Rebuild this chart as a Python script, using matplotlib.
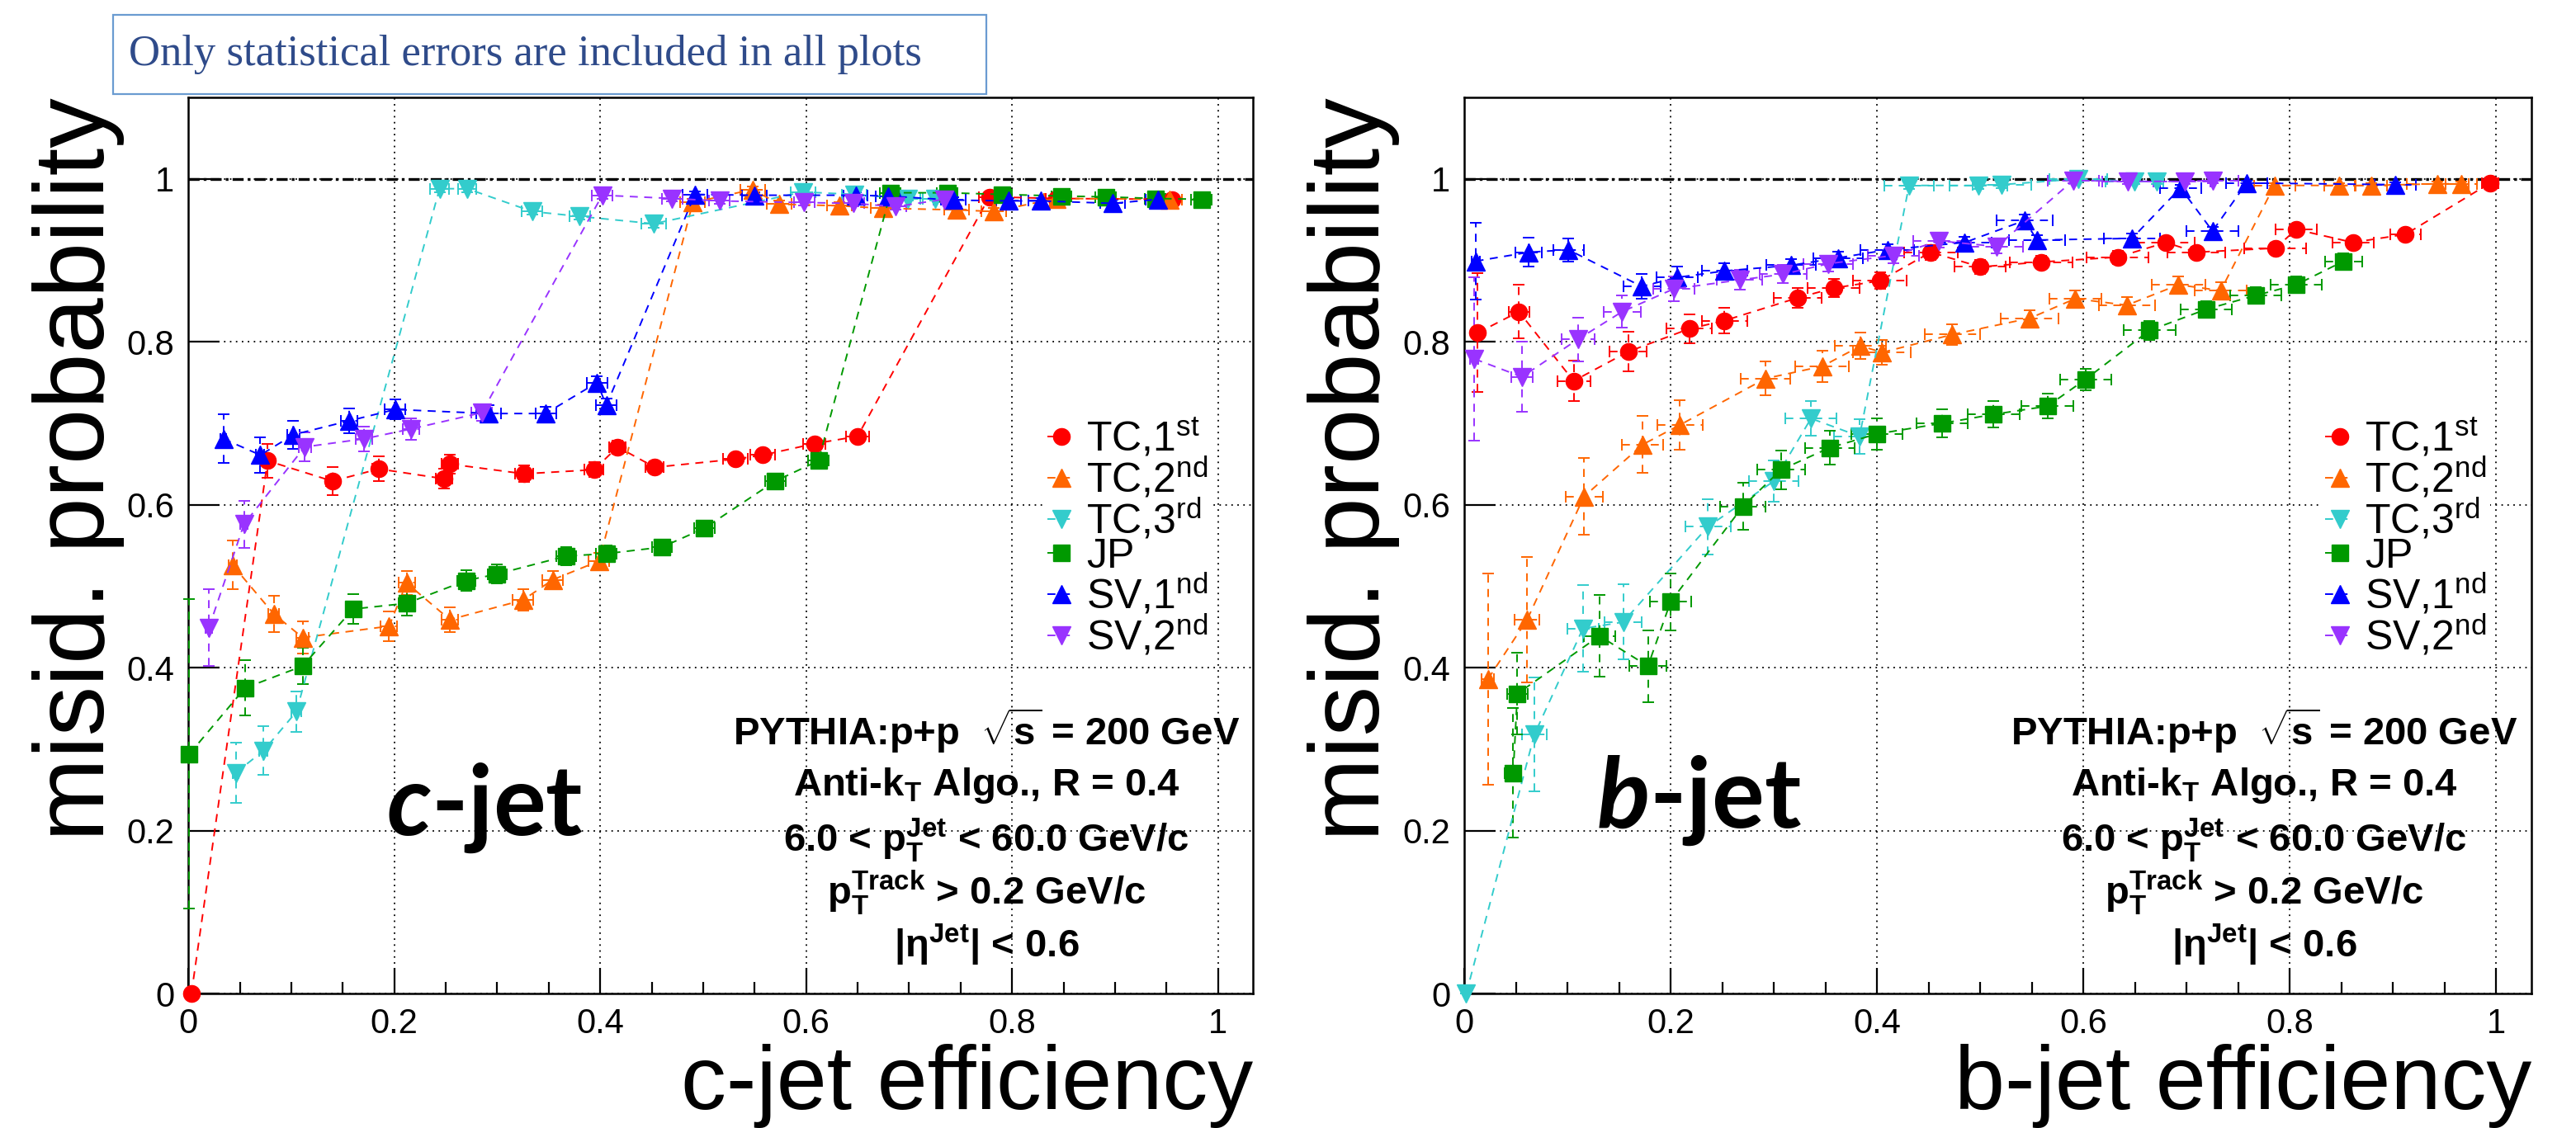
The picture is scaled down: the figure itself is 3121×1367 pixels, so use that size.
import matplotlib
matplotlib.use("Agg")
import matplotlib.pyplot as plt
from matplotlib.patches import Rectangle

plt.rcParams['font.family'] = ['Liberation Sans', 'DejaVu Sans']
plt.rcParams['mathtext.fontset'] = 'custom'
plt.rcParams['mathtext.rm'] = 'Liberation Sans:bold'
plt.rcParams['mathtext.bf'] = 'Liberation Sans:bold'
plt.rcParams['mathtext.sf'] = 'Liberation Sans'
plt.rcParams['mathtext.it'] = 'Lato:italic:bold'

# ---------------- c-jet panel data ----------------
c_tc1_x = [0.003, 0.077, 0.140, 0.185, 0.248, 0.254, 0.326, 0.394, 0.417, 0.453, 0.531, 0.558, 0.608, 0.650, 0.778, 0.843, 0.955]
c_tc1_y = [0.000, 0.654, 0.629, 0.644, 0.632, 0.650, 0.638, 0.643, 0.671, 0.646, 0.656, 0.661, 0.675, 0.684, 0.978, 0.976, 0.975]
c_tc1_ye = [0, 0.021, 0.017, 0.015, 0.012, 0.012, 0.010, 0.009, 0.008, 0.007, 0.006, 0.006, 0.006, 0.006, 0.003, 0.003, 0.003]
c_tc1_xe = [0, 0.004, 0.006, 0.006, 0.008, 0.008, 0.009, 0.009, 0.008, 0.009, 0.012, 0.012, 0.011, 0.011, 0.010, 0.010, 0.010]

c_tc2_x = [0.043, 0.083, 0.111, 0.195, 0.212, 0.254, 0.325, 0.354, 0.399, 0.490, 0.548, 0.574, 0.632, 0.675, 0.746, 0.782, 0.843, 0.953]
c_tc2_y = [0.526, 0.466, 0.437, 0.451, 0.504, 0.459, 0.483, 0.508, 0.531, 0.971, 0.987, 0.969, 0.967, 0.964, 0.962, 0.960, 0.976, 0.975]
c_tc2_ye = [0.030, 0.022, 0.020, 0.018, 0.015, 0.015, 0.013, 0.011, 0.010, 0.005, 0.004, 0.004, 0.004, 0.004, 0.004, 0.004, 0.003, 0.003]
c_tc2_xe = [0.004, 0.005, 0.006, 0.008, 0.008, 0.008, 0.010, 0.010, 0.010, 0.012, 0.012, 0.012, 0.012, 0.012, 0.012, 0.012, 0.012, 0.012]

c_tc3_x = [0.046, 0.073, 0.105, 0.244, 0.271, 0.334, 0.380, 0.452, 0.597, 0.647, 0.699, 0.725]
c_tc3_y = [0.271, 0.298, 0.346, 0.988, 0.988, 0.960, 0.954, 0.945, 0.984, 0.981, 0.976, 0.976]
c_tc3_ye = [0.037, 0.030, 0.025, 0.004, 0.004, 0.004, 0.004, 0.005, 0.003, 0.003, 0.003, 0.003]
c_tc3_xe = [0.003, 0.004, 0.005, 0.009, 0.009, 0.010, 0.010, 0.012, 0.012, 0.012, 0.012, 0.012]

c_jp_x = [0.001, 0.055, 0.111, 0.160, 0.212, 0.270, 0.300, 0.367, 0.406, 0.460, 0.501, 0.570, 0.612, 0.682, 0.737, 0.790, 0.848, 0.891, 0.939, 0.984]
c_jp_y = [0.294, 0.375, 0.402, 0.472, 0.479, 0.507, 0.515, 0.537, 0.540, 0.548, 0.571, 0.629, 0.654, 0.983, 0.983, 0.981, 0.979, 0.978, 0.976, 0.975]
c_jp_ye = [0.190, 0.034, 0.022, 0.018, 0.015, 0.013, 0.012, 0.011, 0.010, 0.009, 0.008, 0.007, 0.007, 0.003, 0.003, 0.003, 0.003, 0.003, 0.003, 0.003]
c_jp_xe = [0.002, 0.004, 0.006, 0.007, 0.008, 0.009, 0.009, 0.010, 0.010, 0.010, 0.010, 0.010, 0.010, 0.010, 0.010, 0.010, 0.010, 0.010, 0.010, 0.010]

c_sv1_x = [0.034, 0.070, 0.102, 0.156, 0.201, 0.292, 0.347, 0.397, 0.406, 0.492, 0.550, 0.648, 0.680, 0.743, 0.797, 0.828, 0.898, 0.942]
c_sv1_y = [0.681, 0.661, 0.686, 0.703, 0.717, 0.712, 0.712, 0.750, 0.722, 0.981, 0.980, 0.980, 0.979, 0.974, 0.973, 0.973, 0.970, 0.975]
c_sv1_ye = [0.030, 0.022, 0.017, 0.015, 0.012, 0.010, 0.008, 0.008, 0.008, 0.004, 0.004, 0.004, 0.004, 0.004, 0.004, 0.004, 0.004, 0.004]
c_sv1_xe = [0.003, 0.004, 0.006, 0.008, 0.010, 0.012, 0.010, 0.010, 0.010, 0.012, 0.012, 0.012, 0.012, 0.012, 0.012, 0.012, 0.012, 0.012]

c_sv2_x = [0.020, 0.054, 0.113, 0.171, 0.216, 0.285, 0.402, 0.470, 0.516, 0.598, 0.646, 0.687, 0.734]
c_sv2_y = [0.449, 0.576, 0.671, 0.681, 0.693, 0.713, 0.980, 0.976, 0.973, 0.971, 0.970, 0.966, 0.975]
c_sv2_ye = [0.047, 0.029, 0.018, 0.015, 0.013, 0.010, 0.004, 0.004, 0.004, 0.004, 0.004, 0.004, 0.004]
c_sv2_xe = [0.003, 0.004, 0.006, 0.008, 0.008, 0.010, 0.010, 0.010, 0.010, 0.010, 0.010, 0.010, 0.010]

# ---------------- b-jet panel data ----------------
b_tc1_x = [0.013, 0.053, 0.106, 0.159, 0.218, 0.252, 0.323, 0.358, 0.403, 0.452, 0.500, 0.559, 0.633, 0.680, 0.709, 0.786, 0.806, 0.861, 0.912, 0.994]
b_tc1_y = [0.811, 0.837, 0.752, 0.788, 0.816, 0.826, 0.854, 0.866, 0.875, 0.910, 0.892, 0.898, 0.904, 0.922, 0.910, 0.915, 0.938, 0.922, 0.932, 0.995]
b_tc1_ye = [0.073, 0.033, 0.025, 0.024, 0.018, 0.016, 0.012, 0.011, 0.010, 0.009, 0.009, 0.008, 0.008, 0.007, 0.007, 0.007, 0.006, 0.006, 0.006, 0.003]
b_tc1_xe = [0.005, 0.010, 0.016, 0.018, 0.022, 0.022, 0.023, 0.025, 0.026, 0.026, 0.025, 0.030, 0.030, 0.028, 0.028, 0.030, 0.020, 0.020, 0.015, 0.008]

b_tc2_x = [0.023, 0.061, 0.116, 0.173, 0.209, 0.292, 0.347, 0.384, 0.405, 0.473, 0.548, 0.592, 0.642, 0.692, 0.733, 0.785, 0.848, 0.879, 0.943, 0.966]
b_tc2_y = [0.386, 0.459, 0.610, 0.674, 0.698, 0.755, 0.770, 0.795, 0.787, 0.809, 0.829, 0.853, 0.845, 0.870, 0.863, 0.992, 0.992, 0.992, 0.994, 0.994]
b_tc2_ye = [0.130, 0.077, 0.047, 0.035, 0.030, 0.021, 0.019, 0.016, 0.015, 0.013, 0.010, 0.010, 0.010, 0.010, 0.010, 0.003, 0.003, 0.003, 0.003, 0.003]
b_tc2_xe = [0.006, 0.012, 0.018, 0.020, 0.022, 0.024, 0.026, 0.025, 0.028, 0.027, 0.028, 0.025, 0.027, 0.026, 0.025, 0.020, 0.015, 0.015, 0.030, 0.015]

b_tc3_x = [0.002, 0.068, 0.115, 0.154, 0.236, 0.300, 0.336, 0.383, 0.431, 0.498, 0.521, 0.595, 0.649, 0.671]
b_tc3_y = [0.000, 0.318, 0.448, 0.456, 0.573, 0.629, 0.706, 0.684, 0.992, 0.992, 0.993, 1.000, 0.997, 0.997]
b_tc3_ye = [0, 0.070, 0.053, 0.046, 0.034, 0.025, 0.021, 0.021, 0.004, 0.004, 0.004, 0.003, 0.003, 0.003]
b_tc3_xe = [0, 0.012, 0.015, 0.018, 0.022, 0.024, 0.025, 0.025, 0.024, 0.028, 0.028, 0.028, 0.028, 0.028]

b_jp_x = [0.0475, 0.0515, 0.131, 0.178, 0.200, 0.270, 0.307, 0.354, 0.400, 0.463, 0.513, 0.565, 0.602, 0.664, 0.719, 0.767, 0.806, 0.852]
b_jp_y = [0.271, 0.368, 0.439, 0.402, 0.481, 0.598, 0.643, 0.670, 0.687, 0.700, 0.711, 0.721, 0.754, 0.814, 0.840, 0.857, 0.870, 0.899]
b_jp_ye = [0.080, 0.050, 0.050, 0.044, 0.035, 0.029, 0.024, 0.021, 0.019, 0.017, 0.016, 0.015, 0.013, 0.012, 0.010, 0.010, 0.010, 0.010]
b_jp_xe = [0.008, 0.010, 0.015, 0.018, 0.020, 0.022, 0.023, 0.024, 0.025, 0.025, 0.025, 0.025, 0.025, 0.025, 0.025, 0.025, 0.025, 0.018]

b_sv1_x = [0.011, 0.0625, 0.101, 0.172, 0.206, 0.252, 0.317, 0.362, 0.410, 0.485, 0.543, 0.555, 0.647, 0.694, 0.725, 0.758, 0.902]
b_sv1_y = [0.899, 0.910, 0.913, 0.868, 0.879, 0.887, 0.894, 0.903, 0.913, 0.922, 0.949, 0.925, 0.927, 0.989, 0.936, 0.995, 0.993]
b_sv1_ye = [0.047, 0.018, 0.014, 0.015, 0.013, 0.010, 0.008, 0.008, 0.007, 0.007, 0.007, 0.006, 0.006, 0.004, 0.005, 0.003, 0.003]
b_sv1_xe = [0.004, 0.013, 0.015, 0.018, 0.020, 0.022, 0.024, 0.024, 0.026, 0.026, 0.027, 0.027, 0.027, 0.020, 0.025, 0.020, 0.020]

b_sv2_x = [0.010, 0.056, 0.110, 0.153, 0.203, 0.267, 0.309, 0.353, 0.416, 0.460, 0.516, 0.590, 0.643, 0.698, 0.725]
b_sv2_y = [0.779, 0.757, 0.803, 0.837, 0.865, 0.876, 0.883, 0.896, 0.906, 0.924, 0.917, 0.998, 0.997, 0.997, 0.998]
b_sv2_ye = [0.100, 0.043, 0.027, 0.020, 0.015, 0.012, 0.011, 0.010, 0.009, 0.008, 0.008, 0.003, 0.003, 0.003, 0.003]
b_sv2_xe = [0.004, 0.010, 0.016, 0.018, 0.020, 0.022, 0.023, 0.024, 0.025, 0.025, 0.025, 0.025, 0.025, 0.025, 0.025]

labels = ['TC,1$^{\\mathsf{st}}$', 'TC,2$^{\\mathsf{nd}}$', 'TC,3$^{\\mathsf{rd}}$', 'JP',
          'SV,1$^{\\mathsf{nd}}$', 'SV,2$^{\\mathsf{nd}}$']
colors = ['#FF0000', '#FF6600', '#33CCCC', '#009900', '#0000FF', '#9933FF']
markers = ['o', '^', 'v', 's', '^', 'v']
msizes = [14.5, 16, 16, 15, 16, 16]

tick_vals = [0, 0.2, 0.4, 0.6, 0.8, 1.0]
tick_labels = ['0', '0.2', '0.4', '0.6', '0.8', '1']

info_lines = ['PYTHIA:p+p  $\\sqrt{\\mathrm{s}}$ = 200 GeV',
              'Anti-k$_{\\mathrm{T}}$ Algo., R = 0.4',
              '6.0 < p$_{\\mathrm{T}}^{\\mathrm{Jet}}$ < 60.0 GeV/c',
              'p$_{\\mathrm{T}}^{\\mathrm{Track}}$ > 0.2 GeV/c',
              '|\u03b7$^{\\mathrm{Jet}}$| < 0.6']
info_y = [0.323, 0.255, 0.188, 0.124, 0.059]

fig = plt.figure(figsize=(31.21, 13.67), dpi=100)
fig.patch.set_facecolor('white')


def draw_panel(rect, series, xlab, tag_it, tag_rest, tag_pos):
    ax = fig.add_axes(rect)
    ax.set_xlim(0, 1.034)
    ax.set_ylim(0, 1.1)
    ax.set_xticks(tick_vals)
    ax.set_xticklabels(tick_labels)
    ax.set_yticks(tick_vals)
    ax.set_yticklabels(tick_labels)
    ax.set_xticks([0.05 * i for i in range(21) if i % 4 != 0], minor=True)
    ax.tick_params(axis='both', which='both', direction='in', labelsize=30,
                   width=1.6, top=False, right=False)
    ax.tick_params(axis='x', which='major', length=22, pad=12)
    ax.tick_params(axis='x', which='minor', length=10)
    ax.tick_params(axis='y', which='major', length=27, pad=12)
    for sp in ax.spines.values():
        sp.set_linewidth(1.8)
    ax.grid(True, which='major', color='black', ls=(0, (1, 3)), lw=1.3)
    ax.axhline(1.0, color='black', ls=(0, (4, 1.5, 1, 1.5)), lw=2.4, zorder=2)

    handles = []
    for (x, y, xe, ye), lab, col, mk, ms in zip(series, labels, colors, markers, msizes):
        eb = ax.errorbar(x, y, xerr=xe, yerr=ye, fmt='none', ecolor=col,
                         elinewidth=1.4, capsize=5, capthick=1.4, zorder=3)
        for lc in eb.lines[2]:
            lc.set_linestyle((0, (5, 4)))
            lc.set_clip_on(False)
        for cap in eb.lines[1]:
            cap.set_clip_on(False)
        ln, = ax.plot(x, y, ls=(0, (5, 4)), lw=1.4, color=col, marker=mk, ms=ms,
                      mfc=col, mec=col, label=lab, zorder=4, clip_on=False)
        handles.append(ln)

    leg = ax.legend(handles=handles, loc='upper left', bbox_to_anchor=(0.803, 0.648),
                    fontsize=36, frameon=True, fancybox=False, framealpha=1,
                    facecolor='white', edgecolor='none', handlelength=0.7,
                    handletextpad=0.25, labelspacing=-0.1, borderpad=0.1,
                    borderaxespad=0)
    leg.set_zorder(5)

    for s, yy in zip(info_lines, info_y):
        ax.text(0.775, yy, s, ha='center', va='center', fontsize=34,
                fontweight='bold', zorder=6)

    ax.text(tag_pos[0], tag_pos[1], tag_it + tag_rest, fontsize=86,
            family='Lato', fontweight='bold', ha='left', va='baseline', zorder=6)

    ax.set_xlabel(xlab, fontsize=79, ha='right')
    ax.xaxis.set_label_coords(1.0, -0.056)
    ax.xaxis.label.set_va('top')
    ax.set_ylabel('misid. probability', fontsize=87, ha='right')
    ax.yaxis.set_label_coords(-0.06, 1.0)
    return ax


c_series = [(c_tc1_x, c_tc1_y, c_tc1_xe, c_tc1_ye), (c_tc2_x, c_tc2_y, c_tc2_xe, c_tc2_ye),
            (c_tc3_x, c_tc3_y, c_tc3_xe, c_tc3_ye), (c_jp_x, c_jp_y, c_jp_xe, c_jp_ye),
            (c_sv1_x, c_sv1_y, c_sv1_xe, c_sv1_ye), (c_sv2_x, c_sv2_y, c_sv2_xe, c_sv2_ye)]
b_series = [(b_tc1_x, b_tc1_y, b_tc1_xe, b_tc1_ye), (b_tc2_x, b_tc2_y, b_tc2_xe, b_tc2_ye),
            (b_tc3_x, b_tc3_y, b_tc3_xe, b_tc3_ye), (b_jp_x, b_jp_y, b_jp_xe, b_jp_ye),
            (b_sv1_x, b_sv1_y, b_sv1_xe, b_sv1_ye), (b_sv2_x, b_sv2_y, b_sv2_xe, b_sv2_ye)]

draw_panel([0.0731, 0.1192, 0.4133, 0.7944], c_series, 'c-jet efficiency',
           '$\\mathit{c}$', '-jet', (0.192, 0.195))
draw_panel([0.5684, 0.1192, 0.4143, 0.7944], b_series, 'b-jet efficiency',
           '$\\mathit{b}$', '-jet', (0.128, 0.204))

# note box at the top
fig.add_artist(Rectangle((0.0439, 0.9166), 0.339, 0.0702, transform=fig.transFigure,
                         fill=False, edgecolor='#6A9BD1', lw=1.6))
fig.text(0.050, 0.9517, 'Only statistical errors are included in all plots',
         family='Liberation Serif', fontsize=38, color='#2F4B8A', va='center', ha='left')

fig.savefig('out.png', dpi=100)
